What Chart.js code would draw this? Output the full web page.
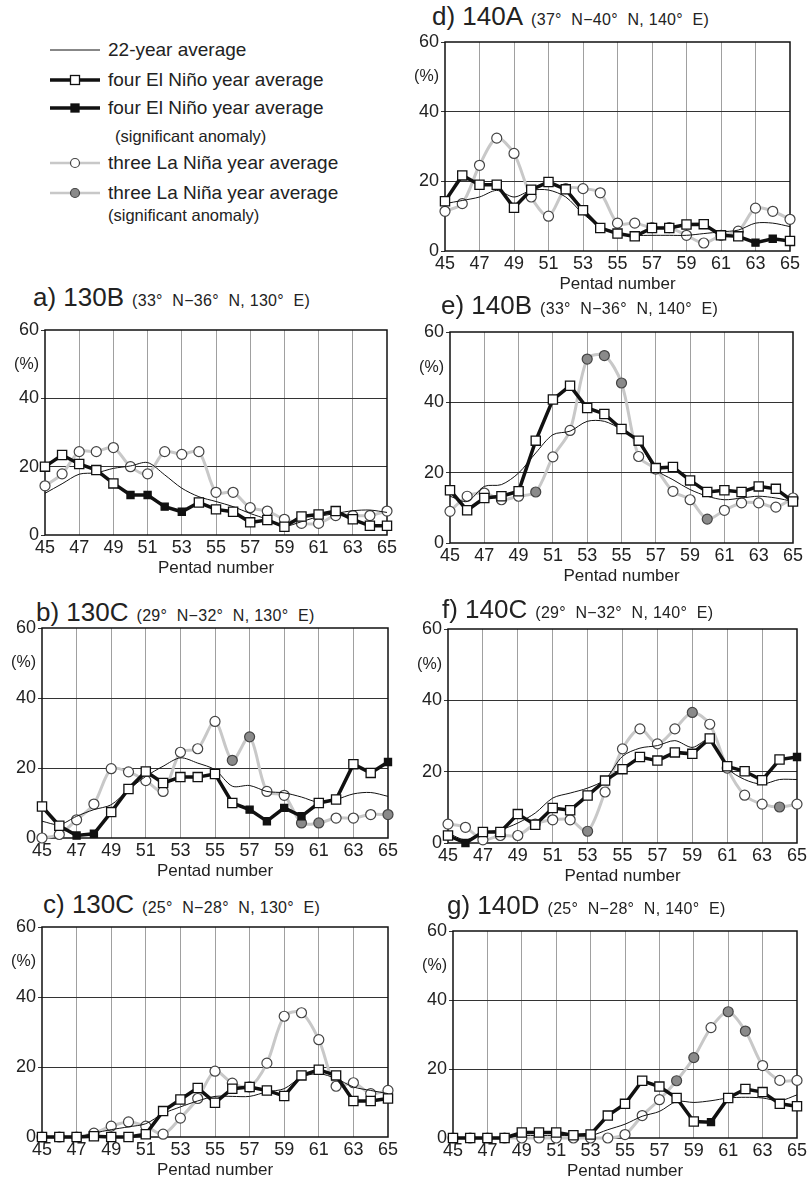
<!DOCTYPE html>
<html>
<head>
<meta charset="utf-8">
<script src="https://cdn.jsdelivr.net/npm/chart.js@4.4.1/dist/chart.umd.min.js"></script>
<style>
  body { margin: 0; background: #fff; width: 808px; height: 1188px; position: relative; overflow: hidden; font-family: "Liberation Sans", Arial, sans-serif; color: #222; }
  canvas { position: absolute; }
  .ttl { position: absolute; display: flex; align-items: baseline; white-space: nowrap; line-height: 1; }
  .ttl .big { font-size: 26px; }
  .ttl .small { font-size: 16px; margin-left: 8px; letter-spacing: 0.3px; }
</style>
</head>
<body>

<svg style="position:absolute;left:0;top:0" width="400" height="240" font-family="Liberation Sans, Arial, sans-serif" fill="#222">
  <line x1="50" y1="50" x2="100" y2="50" stroke="#111" stroke-width="1"/>
  <text x="108" y="56" font-size="19">22-year average</text>

  <line x1="50" y1="80" x2="100" y2="80" stroke="#111" stroke-width="3.5"/>
  <rect x="70.5" y="75.5" width="9" height="9" fill="#fff" stroke="#111" stroke-width="1.3"/>
  <text x="108" y="86" font-size="19">four El Niño year average</text>

  <line x1="50" y1="108" x2="100" y2="108" stroke="#111" stroke-width="3.5"/>
  <rect x="71" y="104" width="8" height="8" fill="#111" stroke="#111" stroke-width="1.3"/>
  <text x="108" y="114" font-size="19">four El Niño year average</text>
  <text x="115" y="142" font-size="16.5">(significant anomaly)</text>

  <line x1="50" y1="163" x2="100" y2="163" stroke="#c8c8c8" stroke-width="2.5"/>
  <circle cx="75" cy="163" r="4.5" fill="#fff" stroke="#444" stroke-width="1.2"/>
  <text x="108" y="169" font-size="19">three La Niña year average</text>

  <line x1="50" y1="193" x2="100" y2="193" stroke="#c8c8c8" stroke-width="2.5"/>
  <circle cx="75" cy="193" r="4.5" fill="#8a8a8a" stroke="#444" stroke-width="1.2"/>
  <text x="108" y="199" font-size="19">three La Niña year average</text>
  <text x="108" y="221" font-size="16.5">(significant anomaly)</text>
</svg>

<script>
// pentads 45..65
const pentads = [45, 46, 47, 48, 49, 50, 51, 52, 53, 54, 55, 56, 57, 58, 59, 60, 61, 62, 63, 64, 65];

// a) 130B (33N-36N, 130E)
const avgA  = [12.2, 15, 17.8, 18.2, 19.5, 20.2, 21.2, 17.6, 13.7, 11.2, 9.8, 8.3, 6.3, 4.6, 2.6, 3.9, 5.4, 6.3, 7.1, 7.3, 6.6];
const ninoA = [20, 23.4, 20.8, 19, 15.1, 11.7, 11.7, 8.3, 6.8, 9.5, 7.5, 6.8, 3.7, 4.4, 2.4, 5.4, 6, 7, 4.6, 2.7, 2.7];
const ninaA = [14.4, 17.9, 24.4, 24.4, 25.6, 20, 17.9, 24.4, 23.6, 24.4, 12.5, 12.5, 8, 7, 4.6, 3.4, 3.4, 5.7, 5.7, 5.7, 7];
const ninoSigA = [50, 51, 52, 53];
const ninaSigA = [];

// b) 130C (29N-32N, 130E)
const avgB  = [4.8, 3.8, 6.2, 8.1, 9.5, 13.8, 17.6, 20.5, 22.9, 21.4, 19.5, 14.8, 15, 13.3, 12.9, 11.7, 10.2, 11, 12.6, 13, 11.9];
const ninoB = [9, 3.5, 0.7, 1.2, 7.4, 14, 19, 15.7, 17.4, 17.4, 18.3, 10, 8.1, 4.8, 8.6, 6.2, 10, 11, 21.1, 18.6, 21.7];
const ninaB = [0, 1, 5.2, 9.7, 19.8, 18.9, 16.4, 13.3, 24.5, 25.5, 33.3, 22.2, 28.9, 13.3, 12.2, 4.3, 4.3, 5.7, 5.7, 6.7, 6.7];
const ninoSigB = [47, 48, 57, 58, 59, 60, 65];
const ninaSigB = [56, 57, 60, 61, 65];

// c) 130C (25N-28N, 130E)
const avgC  = [0, 0, 0, 1.1, 2.1, 2.9, 3.8, 6.7, 8.6, 10.3, 11.6, 11.6, 11.6, 12.9, 13.8, 17.1, 18.1, 16.7, 14.3, 13.3, 12.4];
const ninoC = [0, 0, 0, 0.2, 0, 0, 0.8, 7.4, 10.7, 14, 9.8, 13.8, 14.3, 13.3, 11.7, 17.6, 19.2, 17.6, 10.3, 10.3, 11];
const ninaC = [0, 0, 0, 1.1, 3.1, 4.3, 3.1, 0.8, 5.4, 11, 18.8, 15.4, 14.3, 21.1, 34.5, 35.5, 27.8, 14.5, 15.5, 12.4, 13.3];
const ninoSigC = [];
const ninaSigC = [];

// d) 140A (37N-40N, 140E)
const avgD  = [13.6, 14.5, 15.5, 17.4, 15.5, 17.4, 17.5, 15.5, 10.7, 7, 5, 4.5, 4.5, 4.5, 4.5, 5, 5.5, 6, 8, 8, 7];
const ninoD = [14.3, 21.7, 19, 19, 12.4, 17.6, 19.8, 17.7, 11.7, 6.6, 5, 4.2, 6.6, 6.6, 7.6, 7.7, 4.5, 4.2, 2.4, 3.5, 2.9];
const ninaD = [11.4, 13.6, 24.6, 32.4, 28, 15.5, 10, 17.9, 17.9, 16.7, 8, 8, 6.7, 6.7, 4.5, 2.3, 4.5, 5.7, 12.3, 11.4, 9.1];
const ninoSigD = [63, 64];
const ninaSigD = [];

// e) 140B (33N-36N, 140E)
const avgE  = [13.3, 11.8, 16.1, 16.6, 19.9, 25.6, 30.8, 31.8, 34.6, 34.6, 32.2, 28.4, 20.9, 18, 15.2, 13.3, 12.3, 12.8, 13.3, 12.8, 11.8];
const ninoE = [15, 9.3, 12.8, 13.3, 14.7, 29.1, 40.8, 44.7, 38.4, 36.7, 32.4, 29.1, 21.3, 21.6, 17.8, 14.5, 15, 14.5, 16.1, 15.4, 11.8];
const ninaE = [9, 13.3, 14.2, 12.3, 13.3, 14.5, 24.5, 32, 52.3, 53.3, 45.5, 24.6, 21, 14.7, 12.3, 6.8, 9.3, 11.4, 11.4, 10.2, 12.8];
const ninoSigE = [];
const ninaSigE = [50, 53, 54, 55, 60];

// f) 140C (29N-32N, 140E)
const avgF  = [2.8, 0.9, 2.8, 3.7, 5.6, 8.4, 12.6, 14, 15.4, 17.8, 24.3, 26.6, 27.3, 28.7, 26.8, 29, 21, 17.8, 16.5, 17.8, 17.8];
const ninoF = [2.1, 0, 3.1, 3.1, 8.1, 5.1, 9.8, 9.2, 13.3, 17.5, 20.7, 24.1, 23.1, 25.4, 25, 29.3, 21.5, 20.1, 17.6, 23.4, 24.1];
const ninaF = [5.3, 4.4, 0.9, 2.1, 2.1, 5.3, 6.5, 6.5, 3.3, 14.3, 26.4, 32, 27.8, 32, 36.6, 33.3, 21, 13.4, 10.9, 10.1, 10.9];
const ninoSigF = [46, 65];
const ninaSigF = [53, 59, 64];

// g) 140D (25N-28N, 140E)
const avgG  = [0, 0, 0, 0, 0.7, 0.7, 0.7, 0.7, 0.7, 2.4, 4, 6.3, 7.7, 10.6, 10.3, 10.8, 11.6, 11.8, 11.6, 10.8, 12.5];
const ninoG = [0, 0, 0, 0, 1.6, 1.6, 1.6, 0.8, 1, 6.5, 9.9, 16.6, 14.9, 11.6, 4.8, 4.6, 11.6, 14.2, 13.3, 9.9, 9.2];
const ninaG = [0, 0, 0, 0, 0, 0, 0, 0, 0, 0, 1, 6.5, 11.1, 16.6, 23.3, 32, 36.6, 31, 21, 16.7, 16.7];
const ninoSigG = [60];
const ninaSigG = [58, 59, 61, 62];

const FONT = '"Liberation Sans", Arial, sans-serif';

const frameBox = {
  id: 'frameBox',
  beforeDatasetsDraw(chart) {
    const { ctx, chartArea: { left, top, width, height } } = chart;
    ctx.save();
    ctx.strokeStyle = '#111';
    ctx.lineWidth = 1.5;
    ctx.strokeRect(left, top, width, height);
    ctx.restore();
  }
};

function pts(vals) {
  return vals.map((v, i) => ({ x: pentads[i], y: v }));
}

function makePanel(geo, label, sub, avg, nino, ninoSig, nina, ninaSig) {
  const padT = 14, padR = 14, yW = 40, xH = 46;
  const pw = geo.r - geo.l, ph = geo.b - geo.t;

  const t = document.createElement('div');
  t.className = 'ttl';
  t.style.left = geo.tx + 'px';
  t.style.top = (geo.ty - 21) + 'px';
  t.innerHTML = '<span class="big">' + label + '</span><span class="small">' + sub + '</span>';
  document.body.appendChild(t);

  const cv = document.createElement('canvas');
  cv.width = yW + pw + padR;
  cv.height = padT + ph + xH;
  cv.style.left = (geo.l - yW) + 'px';
  cv.style.top = (geo.t - padT) + 'px';
  document.body.appendChild(cv);

  new Chart(cv.getContext('2d'), {
    type: 'line',
    data: {
      datasets: [
        {
          label: 'four El Niño year average',
          data: pts(nino),
          borderColor: '#111',
          borderWidth: 3.5,
          tension: 0,
          pointStyle: 'rect',
          pointRadius: c => ninoSig.includes(pentads[c.dataIndex]) ? 5 : 6.5,
          pointBackgroundColor: c => ninoSig.includes(pentads[c.dataIndex]) ? '#111' : '#fff',
          pointBorderColor: '#111',
          pointBorderWidth: 1.3,
          clip: false
        },
        {
          label: '22-year average',
          data: pts(avg),
          borderColor: '#111',
          borderWidth: 1,
          tension: 0.3,
          pointRadius: 0,
          clip: false
        },
        {
          label: 'three La Niña year average',
          data: pts(nina),
          borderColor: '#c8c8c8',
          borderWidth: 3,
          tension: 0.3,
          pointStyle: 'circle',
          pointRadius: 5,
          pointBackgroundColor: c => ninaSig.includes(pentads[c.dataIndex]) ? '#8a8a8a' : '#fff',
          pointBorderColor: '#444',
          pointBorderWidth: 1.2,
          clip: false
        }
      ]
    },
    options: {
      responsive: false,
      animation: false,
      devicePixelRatio: 1,
      layout: { padding: { top: padT, right: padR, left: 0, bottom: 0 } },
      plugins: { legend: { display: false }, tooltip: { enabled: false } },
      scales: {
        x: {
          type: 'linear',
          min: 45, max: 65,
          afterFit: s => { s.height = xH; },
          border: { display: false },
          grid: {
            color: c => (c.tick && c.tick.value > 45 && c.tick.value < 65) ? '#a0a0a0' : 'rgba(0,0,0,0)',
            lineWidth: 1,
            drawTicks: false
          },
          ticks: { stepSize: 2, padding: 2, color: '#222', font: { family: FONT, size: 18 } },
          title: { display: true, text: 'Pentad number', color: '#222', padding: { top: 0, bottom: 2 }, font: { family: FONT, size: 17 } }
        },
        y: {
          min: 0, max: 60,
          afterFit: s => { s.width = yW; },
          border: { display: false },
          grid: {
            color: c => (c.tick && (c.tick.value === 20 || c.tick.value === 40)) ? '#333' : 'rgba(0,0,0,0)',
            tickColor: c => (c.tick && c.tick.value % 20 === 0) ? '#333' : 'rgba(0,0,0,0)',
            tickLength: 4,
            lineWidth: 1
          },
          ticks: {
            stepSize: 10,
            autoSkip: false,
            padding: 2,
            color: '#222',
            font: c => ({ family: FONT, size: (c.tick && c.tick.value === 50) ? 16 : 18 }),
            callback: v => v % 20 === 0 ? v : (v === 50 ? '(%)' : '')
          }
        }
      }
    },
    plugins: [frameBox]
  });
}

makePanel({ l: 45, t: 330, r: 387, b: 535, tx: 33, ty: 305 }, 'a) 130B', '(33°&nbsp; N−36°&nbsp; N, 130°&nbsp; E)', avgA, ninoA, ninoSigA, ninaA, ninaSigA);
makePanel({ l: 42, t: 628, r: 388, b: 838, tx: 36, ty: 620 }, 'b) 130C', '(29°&nbsp; N−32°&nbsp; N, 130°&nbsp; E)', avgB, ninoB, ninoSigB, ninaB, ninaSigB);
makePanel({ l: 42, t: 927, r: 388, b: 1137, tx: 43, ty: 912 }, 'c) 130C', '(25°&nbsp; N−28°&nbsp; N, 130°&nbsp; E)', avgC, ninoC, ninoSigC, ninaC, ninaSigC);
makePanel({ l: 445, t: 42, r: 790, b: 251, tx: 432, ty: 24 }, 'd) 140A', '(37°&nbsp; N−40°&nbsp; N, 140°&nbsp; E)', avgD, ninoD, ninoSigD, ninaD, ninaSigD);
makePanel({ l: 450, t: 332, r: 793, b: 543, tx: 441, ty: 313 }, 'e) 140B', '(33°&nbsp; N−36°&nbsp; N, 140°&nbsp; E)', avgE, ninoE, ninoSigE, ninaE, ninaSigE);
makePanel({ l: 448, t: 629, r: 797, b: 843, tx: 442, ty: 617 }, 'f) 140C', '(29°&nbsp; N−32°&nbsp; N, 140°&nbsp; E)', avgF, ninoF, ninoSigF, ninaF, ninaSigF);
makePanel({ l: 453, t: 931, r: 797, b: 1138, tx: 447, ty: 913 }, 'g) 140D', '(25°&nbsp; N−28°&nbsp; N, 140°&nbsp; E)', avgG, ninoG, ninoSigG, ninaG, ninaSigG);
</script>
</body>
</html>
